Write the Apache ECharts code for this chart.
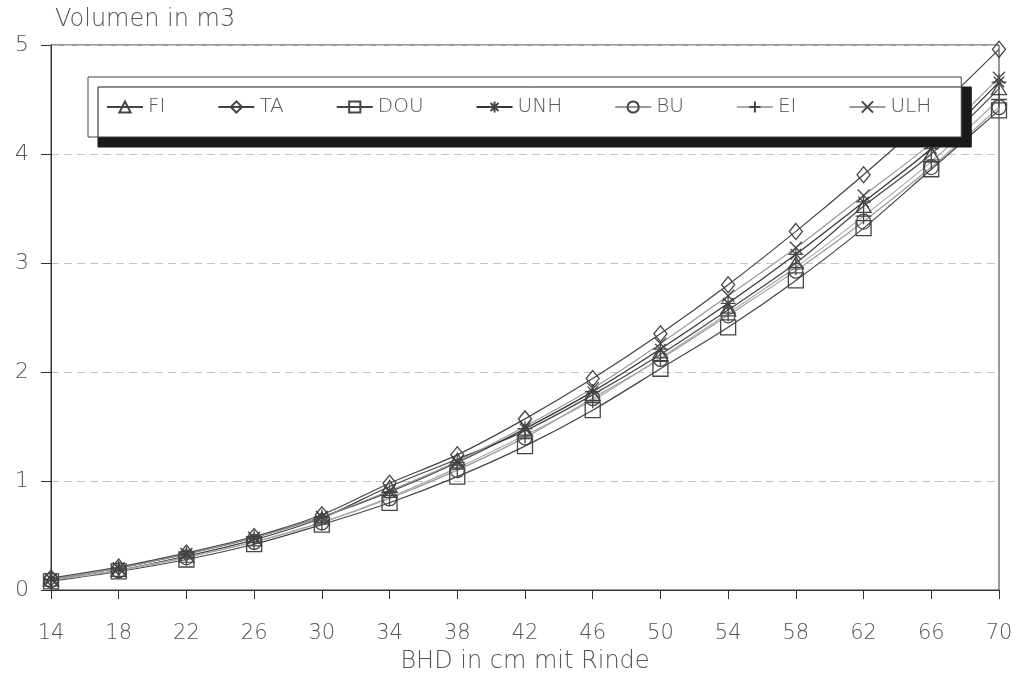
<!DOCTYPE html>
<html>
<head>
<meta charset="utf-8">
<script src="https://cdn.jsdelivr.net/npm/echarts@6/dist/echarts.min.js"></script>
<style>html,body{margin:0;padding:0;background:#fff}#c{width:1021px;height:675px}</style>
</head>
<body>
<div id="c"></div>
<script>
const categories = ['14','18','22','26','30','34','38','42','46','50','54','58','62','66','70'];
const yTicks = [0,1,2,3,4,5];
const FI  = [0.09,0.18,0.31,0.46,0.66,0.95,1.20,1.46,1.79,2.16,2.57,3.00,3.52,4.00,4.60];
const TA  = [0.11,0.21,0.34,0.49,0.69,0.98,1.24,1.57,1.94,2.35,2.80,3.29,3.81,4.36,4.96];
const DOU = [0.08,0.17,0.28,0.42,0.60,0.80,1.04,1.32,1.65,2.03,2.41,2.84,3.32,3.86,4.40];
const UNH = [0.10,0.20,0.33,0.48,0.67,0.90,1.17,1.48,1.82,2.21,2.63,3.08,3.56,4.05,4.66];
const BU  = [0.09,0.18,0.30,0.44,0.62,0.84,1.10,1.40,1.76,2.12,2.52,2.93,3.38,3.88,4.43];
const EI  = [0.09,0.18,0.30,0.44,0.62,0.85,1.12,1.42,1.74,2.13,2.54,2.96,3.43,3.93,4.50];
const ULH = [0.10,0.20,0.33,0.48,0.67,0.91,1.18,1.50,1.85,2.26,2.70,3.14,3.62,4.10,4.70];

const FONT = 'DejaVu Sans';
const FW = 200;
const TXT = '#555';
const seriesDefs = [
  {name:'FI',  data:FI,  symbol:'triangle', size:[15,12], line:'#444'},
  {name:'TA',  data:TA,  symbol:'diamond',  size:[13,16], line:'#444'},
  {name:'DOU', data:DOU, symbol:'rect',     size:[15,15], line:'#444'},
  {name:'UNH', data:UNH, symbol:'path://M5,0L5,10M0,5L10,5M1.5,1.5L8.5,8.5M8.5,1.5L1.5,8.5', size:[15,15], line:'#333'},
  {name:'BU',  data:BU,  symbol:'circle',   size:[14,15], line:'#999'},
  {name:'EI',  data:EI,  symbol:'path://M5,0L5,10M0,5L10,5', size:[16,16], line:'#aaa'},
  {name:'ULH', data:ULH, symbol:'path://M0,0L10,10M10,0L0,10', size:[12,12], line:'#999'}
];

const chart = echarts.init(document.getElementById('c'), null, {renderer:'canvas'});
chart.setOption({
  animation:false,
  backgroundColor:'#fff',
  textStyle:{fontFamily:FONT, fontWeight:FW, color:TXT},
  grid:{left:51, right:22, top:45, bottom:85, show:true, borderColor:'#333', borderWidth:1,
        backgroundColor:'transparent', outerBoundsMode:'none', containLabel:false},
  legend:{
    left:88, top:77, orient:'horizontal', z:20,
    padding:[20,30,20,18],
    itemGap:52, itemWidth:36, itemHeight:14,
    backgroundColor:'#fff', borderColor:'#444', borderWidth:1,
    shadowColor:'#1a1a1a', shadowBlur:0, shadowOffsetX:10, shadowOffsetY:10,
    textStyle:{fontFamily:FONT, fontWeight:FW, fontSize:20, color:TXT},
    data: seriesDefs.map(s=>s.name)
  },
  xAxis:{
    type:'category', boundaryGap:false, data:categories,
    name:'BHD in cm mit Rinde', nameLocation:'middle', nameGap:60,
    nameTextStyle:{fontFamily:FONT, fontWeight:FW, fontSize:24, color:TXT},
    axisLine:{lineStyle:{color:'#333', width:1}},
    axisTick:{show:true, length:9, lineStyle:{color:'#333'}},
    axisLabel:{fontFamily:FONT, fontWeight:FW, fontSize:21, color:TXT, margin:33, interval:0},
    splitLine:{show:false}
  },
  yAxis:{
    type:'value', min:0, max:5, interval:1,
    name:'Volumen in m3', nameLocation:'end', nameGap:13,
    nameTextStyle:{fontFamily:FONT, fontWeight:FW, fontSize:24, color:TXT, align:'left', padding:[0,0,0,4]},
    axisLine:{show:true, lineStyle:{color:'#333', width:1}},
    axisTick:{show:true, length:10, lineStyle:{color:'#333'}},
    axisLabel:{fontFamily:FONT, fontWeight:FW, fontSize:22, color:TXT, margin:22,
      formatter:v=>yTicks.includes(v)?String(v):''},
    splitLine:{show:true, lineStyle:{color:'#c4c4c4', type:[8,5], width:1}}
  },
  series: seriesDefs.map(s=>({
    name:s.name, type:'line', data:s.data, smooth:0.3, clip:false, z:2,
    symbol:s.symbol, symbolSize:s.size, showSymbol:true,
    lineStyle:{color:s.line, width:1.2},
    itemStyle:{color:'rgba(255,255,255,0)', borderColor:'#444', borderWidth:1.3},
    emphasis:{disabled:true}
  }))
});
</script>
</body>
</html>
